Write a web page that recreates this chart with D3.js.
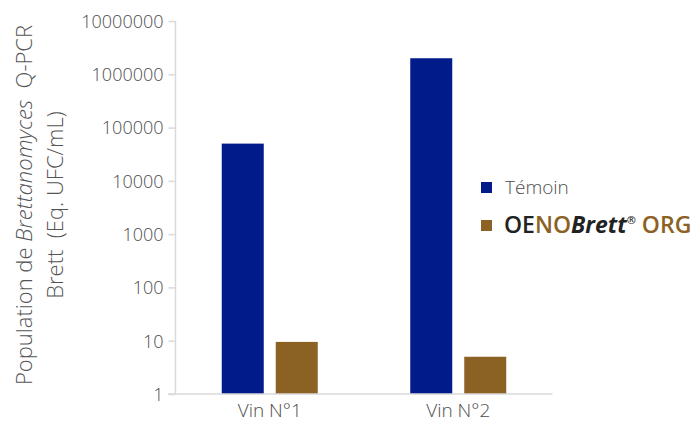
<!DOCTYPE html>
<html><head><meta charset="utf-8">
<script src="https://cdn.jsdelivr.net/npm/d3@7"></script>
<style>body{margin:0;background:#fff;} svg{display:block;} svg text{font-family:"Open Sans","Noto Sans",sans-serif;}</style>
</head><body><svg width="697" height="425"></svg>
<script>
const categories = ["Vin N°1", "Vin N°2"];
const seriesNames = ["Témoin", "OENOBrett ORG"];
const temoin = [50000, 2000000];
const oenobrett = [9.5, 5];
const tickValues = [1, 10, 100, 1000, 10000, 100000, 1000000, 10000000];
const tickLabels = ["1", "10", "100", "1000", "10000", "100000", "1000000", "10000000"];
const colors = ["#011b8a", "#8c6124"];

const svg = d3.select("svg");
const x0 = d3.scaleBand().domain(categories).range([175.5, 552.5]).paddingInner(0).paddingOuter(0);
const y = d3.scaleLog().domain([1, 10000000]).range([394, 21]);

const gridColor = "#d9d9d9";
const textColor = "#4d4d4d";

// bars
const series = [temoin, oenobrett];
const barW = 42, gap = 12;
categories.forEach((c, i) => {
  const center = x0(c) + x0.bandwidth() / 2;
  const groupW = barW * 2 + gap;
  series.forEach((s, j) => {
    const xs = center - groupW / 2 + j * (barW + gap);
    svg.append("rect").attr("x", xs).attr("y", y(s[i]))
      .attr("width", barW).attr("height", y(1) - y(s[i])).attr("fill", colors[j]);
  });
});

// y axis
const yAxis = d3.axisLeft(y).tickValues(tickValues).tickFormat((d, i) => tickLabels[i]).tickSize(7).tickPadding(5);
const gy = svg.append("g").attr("transform", "translate(175.5,0)").call(yAxis).attr("font-family", null);
gy.select(".domain").attr("stroke", gridColor).attr("stroke-width", 1.5).attr("d", "M0,21V394");
gy.selectAll(".tick line").attr("stroke", gridColor).attr("stroke-width", 1.5);
gy.selectAll(".tick text").attr("fill", textColor).style("font-size", "18px").style("font-weight", "300").attr("dy", "0.35em");

// x axis
const xAxis = d3.axisBottom(x0).tickSize(0).tickPadding(10);
const gx = svg.append("g").attr("transform", "translate(0,394)").call(xAxis).attr("font-family", null);
gx.select(".domain").attr("stroke", gridColor).attr("stroke-width", 1.5).attr("d", "M168,0H552.5");
gx.selectAll(".tick text").attr("fill", textColor).style("font-size", "19px").style("font-weight", "300");

// y title
const yt = svg.append("text").attr("transform", "translate(32,205) rotate(-90)")
  .attr("text-anchor", "middle").attr("fill", "#555").style("font-size", "22px").style("font-weight", "300");
yt.append("tspan").text("Population de ");
yt.append("tspan").attr("font-style", "italic").text("Brettanomyces");
yt.append("tspan").text("\u00a0\u00a0Q-PCR");
svg.append("text").attr("transform", "translate(63,205) rotate(-90)")
  .attr("text-anchor", "middle").attr("fill", "#555").style("font-size", "22px").style("font-weight", "300")
  .text("Brett\u00a0\u00a0(Eq. UFC/mL)");

// legend
const lg = svg.append("g");
lg.append("rect").attr("x", 481).attr("y", 182).attr("width", 11).attr("height", 11).attr("fill", colors[0]);
lg.append("text").attr("x", 505).attr("y", 194).attr("fill", textColor).style("font-size", "19px").style("font-weight", "300").text(seriesNames[0]);
lg.append("rect").attr("x", 481).attr("y", 220).attr("width", 11).attr("height", 11).attr("fill", colors[1]);
const t2 = lg.append("text").attr("x", 504).attr("y", 233).style("font-size", "23px").style("font-weight", "600");
t2.append("tspan").attr("fill", "#222").text("OE");
t2.append("tspan").attr("fill", colors[1]).text("NO");
t2.append("tspan").attr("fill", "#222").attr("font-style", "italic").attr("font-weight", "700").text("Brett");
t2.append("tspan").attr("fill", "#222").style("font-size", "11px").attr("dy", -9).text("®");
t2.append("tspan").attr("fill", colors[1]).attr("dy", 9).text(" ORG");
</script></body></html>
